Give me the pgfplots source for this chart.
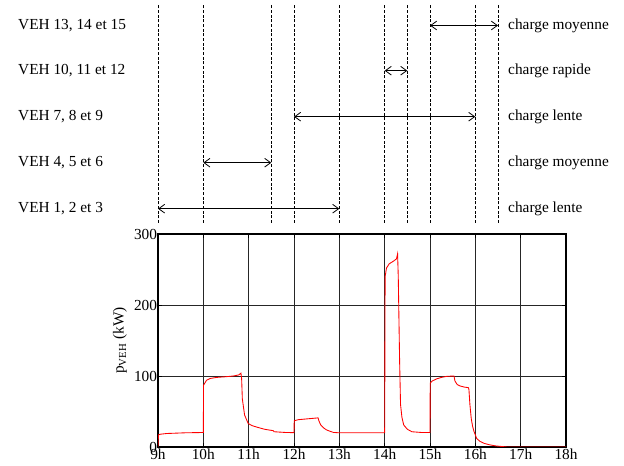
\documentclass[border=0pt]{standalone}
\usepackage{fontspec}
\setmainfont{Liberation Serif}
\usepackage{pgfplots}
\pgfplotsset{compat=1.18}
\usetikzlibrary{arrows.meta,calc}

\tikzset{
  dline/.style={black, line width=0.5pt, dash pattern=on 2.2pt off 1.3pt},
  span/.style={black, line width=0.6pt,
    {Straight Barb[length=4.5pt,width=6.5pt]}-{Straight Barb[length=4.5pt,width=6.5pt]}},
  lab/.style={anchor=west, inner sep=0pt},
}

\begin{document}
\fontsize{11.5}{14}\selectfont
\begin{tikzpicture}
\begin{axis}[
  name=main,
  scale only axis,
  width=306pt, height=159.75pt,
  xmin=9, xmax=18, ymin=0, ymax=300,
  xtick={9,10,...,18},
  xticklabels={9h,10h,11h,12h,13h,14h,15h,16h,17h,18h},
  ytick={0,100,200,300},
  grid=major,
  grid style={black!85, line width=0.7pt},
  axis line style={line width=1.2pt},
  tick align=inside,
  major tick length=3pt,
  tick style={black, line width=0.6pt},
  /pgf/number format/assume math mode=true,
  xticklabel style={inner sep=1.5pt},
  yticklabel style={inner sep=0.5pt},
  ylabel={p\textsubscript{VEH} (kW)},
  ylabel style={at={(axis description cs:-0.093,0.5)}, anchor=center},
]
  \addplot[red, line width=0.65pt] coordinates {
    (9.0,0)(9.01,17)(9.05,18)(9.19,19)(9.6,20)(9.99,20.4)
    (10.0,20.4)(10.005,87)(10.07,94)(10.15,96.5)(10.29,98)(10.5,99)
    (10.66,100)(10.78,101.5)(10.83,104)(10.845,96)(10.86,68)(10.91,45)
    (10.99,33)(11.08,30)(11.18,28)(11.35,25)(11.54,23)(11.56,21.5)
    (11.8,20.5)(11.99,20.2)
    (12.0,20.2)(12.005,37)(12.1,38.5)(12.27,39.5)(12.53,41)(12.555,36)
    (12.59,31)(12.65,27)(12.72,24)(12.8,22)(12.87,20.5)(13.0,20)(13.99,20)
    (14.0,20)(14.01,240)(14.04,252)(14.1,258)(14.2,262)(14.26,265)
    (14.285,272)(14.3,240)(14.33,120)(14.35,60)(14.38,42)(14.42,31)
    (14.5,25)(14.6,21.5)(14.8,20.5)(14.99,20.5)
    (15.0,20.5)(15.005,90)(15.05,93)(15.15,96)(15.25,98)(15.37,99.5)
    (15.53,100)(15.55,93)(15.6,88)(15.66,86)(15.75,84.5)(15.85,83.5)
    (15.86,80)(15.88,60)(15.91,40)(15.94,29)(15.97,22)(16.0,17)
    (16.03,12)(16.1,8)(16.2,5)(16.32,3)(16.45,1.5)(16.62,0.5)(16.7,0)(18,0)
  };
\end{axis}

\begin{axis}[
  at={(main.north west)}, anchor=south west,
  scale only axis,
  width=306pt, height=175.5pt,
  xmin=9, xmax=18, ymin=0, ymax=234,
  hide axis, clip=false,
]
  % vertical dashed markers
  \addplot[dline] coordinates {(9,11)(9,229)};
  \addplot[dline] coordinates {(10,11)(10,229)};
  \addplot[dline] coordinates {(11.5,11)(11.5,229)};
  \addplot[dline] coordinates {(12,11)(12,229)};
  \addplot[dline] coordinates {(13,11)(13,229)};
  \addplot[dline] coordinates {(14,11)(14,229)};
  \addplot[dline] coordinates {(14.5,11)(14.5,229)};
  \addplot[dline] coordinates {(15,11)(15,229)};
  \addplot[dline] coordinates {(16,11)(16,229)};
  \addplot[dline] coordinates {(16.5,11)(16.5,229)};
  % charging windows
  \addplot[span] coordinates {(9,25.3)(13,25.3)};
  \addplot[span] coordinates {(10,71.3)(11.5,71.3)};
  \addplot[span] coordinates {(12,117.3)(16,117.3)};
  \addplot[span] coordinates {(14,163.3)(14.5,163.3)};
  \addplot[span] coordinates {(15,208.5)(16.5,208.5)};
  % labels
  \node[lab] at (axis cs:5.91,25.3) {VEH 1, 2 et 3};
  \node[lab] at (axis cs:5.91,71.3) {VEH 4, 5 et 6};
  \node[lab] at (axis cs:5.91,117.3) {VEH 7, 8 et 9};
  \node[lab] at (axis cs:5.91,163.3) {VEH 10, 11 et 12};
  \node[lab] at (axis cs:5.91,208.5) {VEH 13, 14 et 15};
  \node[lab] at (axis cs:16.72,25.3) {charge lente};
  \node[lab] at (axis cs:16.72,71.3) {charge moyenne};
  \node[lab] at (axis cs:16.72,117.3) {charge lente};
  \node[lab] at (axis cs:16.72,163.3) {charge rapide};
  \node[lab] at (axis cs:16.72,208.5) {charge moyenne};
\end{axis}

\pgfresetboundingbox
\path ($(main.south west)+(-118.5pt,-14.25pt)$) rectangle
      ($(main.south west)+(349.5pt,335.25pt)$);
\end{tikzpicture}
\end{document}
